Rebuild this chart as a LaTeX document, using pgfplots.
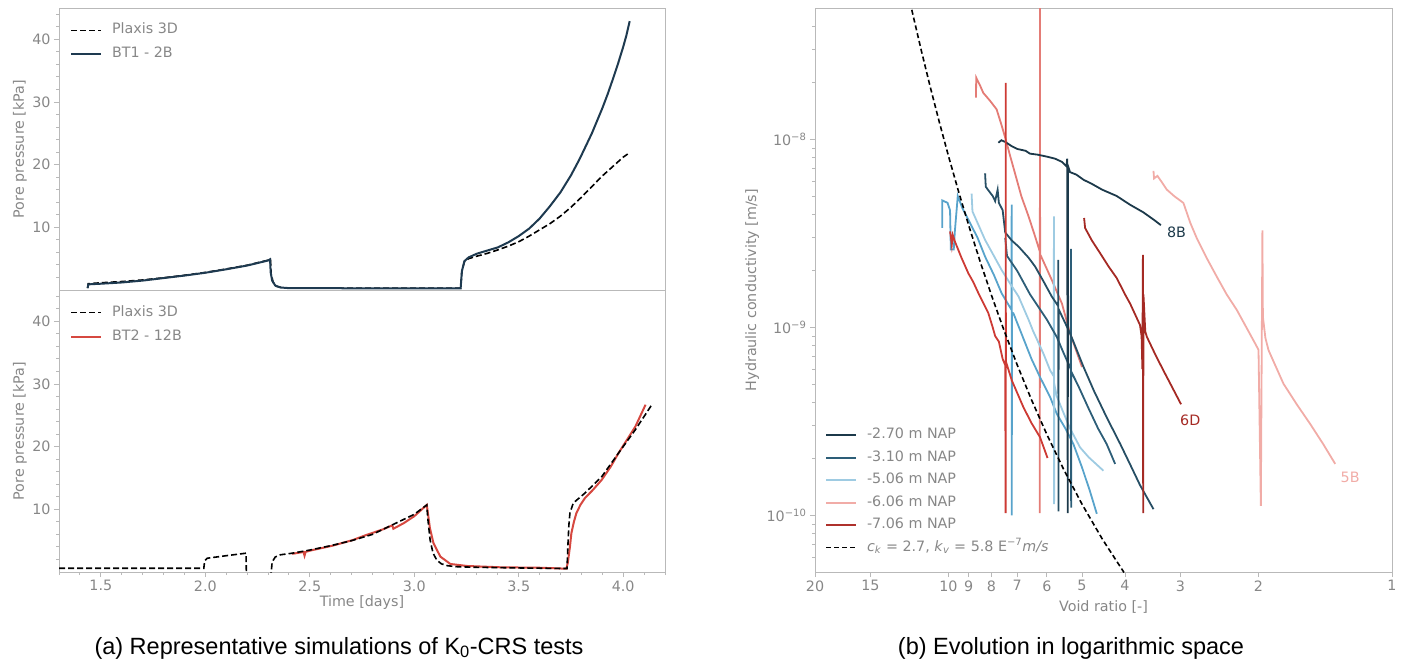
\documentclass[border=0pt]{standalone}
\usepackage{fontspec}
\setmainfont{DejaVu Sans}
\newfontfamily\capfont{Liberation Sans}
\usepackage{pgfplots}
\pgfplotsset{compat=1.18}

\definecolor{tickgray}{RGB}{135,135,135}
\definecolor{spinegray}{RGB}{185,185,185}
\definecolor{navy}{RGB}{28,57,74}
\definecolor{bt1}{RGB}{30,58,80}
\definecolor{bt2}{RGB}{214,72,64}
\definecolor{tealc}{RGB}{45,94,120}
\definecolor{tealb}{RGB}{38,78,100}
\definecolor{midblue}{RGB}{88,163,203}
\definecolor{lightblue}{RGB}{158,203,226}
\definecolor{lightpink}{RGB}{241,172,167}
\definecolor{salmon}{RGB}{228,124,118}
\definecolor{red7}{RGB}{205,58,52}
\definecolor{darkred}{RGB}{165,42,36}

\newcommand{\fs}{\fontsize{14.3}{17}\selectfont}

\pgfplotsset{
 mystyle/.style={
  scale only axis,
  anchor=south west,
  axis line style={draw=spinegray, line width=0.9pt},
  tick style={draw=spinegray, line width=0.9pt},
  tick align=outside,
  major tick length=5pt,
  minor tick length=3pt,
  xtick pos=bottom, ytick pos=left,
  tick label style={font=\fs, text=tickgray},
  label style={font=\fs, text=tickgray},
  legend style={draw=none, fill=none, font=\fs, text=tickgray, inner sep=0pt, outer sep=0pt,
     nodes={text height=10pt, text depth=3pt, inner sep=2pt}},
  legend cell align=left,
  legend image code/.code={\draw[##1] (0pt,0pt) -- (30pt,0pt); \path (38pt,0pt);},
 }
}

\begin{document}
\begin{tikzpicture}
\useasboundingbox (0,0) rectangle (1404pt,662pt);

% ---------- top left ----------
\begin{axis}[mystyle, at={(59pt,372pt)}, width=606pt, height=282pt,
  xmin=1.3, xmax=4.2, ymin=0, ymax=45,
  xtick=\empty, ytick={10,20,30,40}, yticklabels={10,20,30,40},
  minor ytick={2,4,...,44},
  ylabel={Pore pressure [kPa]},
  ylabel style={at={(axis description cs:-0.0644,0.5)}, anchor=center},
  legend style={at={(axis description cs:0,1)}, anchor=north west, xshift=11pt, yshift=-14pt, row sep=7pt}]
\addplot[black, line width=1.6pt, dash pattern=on 6pt off 3pt] coordinates {
(1.437,0.3) (1.44,1.0) (1.5,1.15) (1.6,1.35) (1.7,1.6) (1.8,1.95) (1.9,2.35) (2.0,2.8) (2.1,3.35) (2.2,3.95) (2.3,4.75) (2.312,4.9) (2.315,2.6) (2.325,1.2) (2.34,0.6) (2.37,0.35) (2.5,0.3) (3.0,0.3) (3.222,0.3) (3.228,3.0) (3.24,4.5) (3.26,5.0) (3.3,5.4) (3.35,5.85) (3.4,6.4) (3.45,7.0) (3.5,7.7) (3.55,8.6) (3.6,9.6) (3.65,10.6) (3.7,11.8) (3.75,13.2) (3.8,14.8) (3.85,16.5) (3.9,18.2) (3.95,19.7) (4.0,21.2) (4.026,21.8)};
\addlegendentry{Plaxis 3D}
\addplot[bt1, line width=2pt] coordinates {
(1.437,0.3) (1.44,0.9) (1.5,1.0) (1.6,1.2) (1.7,1.5) (1.8,1.9) (1.9,2.3) (2.0,2.75) (2.1,3.3) (2.2,3.9) (2.3,4.7) (2.31,4.9) (2.313,2.8) (2.32,1.5) (2.335,0.7) (2.36,0.4) (2.4,0.3) (3.0,0.25) (3.222,0.25) (3.228,3.0) (3.24,4.6) (3.26,5.2) (3.3,5.8) (3.35,6.3) (3.4,6.8) (3.45,7.6) (3.5,8.6) (3.55,9.8) (3.6,11.4) (3.625,12.4) (3.65,13.4) (3.7,15.6) (3.75,18.3) (3.785,20.5) (3.8,21.5) (3.85,25.0) (3.9,29.0) (3.925,31.2) (3.95,33.6) (3.975,36.1) (4.0,38.8) (4.015,40.6) (4.031,42.9)};
\addlegendentry{BT1 - 2B}
\end{axis}

% ---------- bottom left ----------
\begin{axis}[mystyle, at={(59pt,90pt)}, width=606pt, height=282pt,
  xmin=1.3, xmax=4.2, ymin=0, ymax=45,
  xtick={1.5,2,2.5,3,3.5,4}, xticklabels={1.5,2.0,2.5,3.0,3.5,4.0},
  minor xtick={1.3,1.4,1.6,1.7,1.8,1.9,2.1,2.2,2.3,2.4,2.6,2.7,2.8,2.9,3.1,3.2,3.3,3.4,3.6,3.7,3.8,3.9,4.1,4.2},
  ytick={10,20,30,40}, yticklabels={10,20,30,40},
  minor ytick={2,4,...,44},
  xlabel={Time [days]},
  xlabel style={at={(axis description cs:0.5,-0.108)}, anchor=center},
  ylabel={Pore pressure [kPa]},
  ylabel style={at={(axis description cs:-0.0644,0.5)}, anchor=center},
  legend style={at={(axis description cs:0,1)}, anchor=north west, xshift=11pt, yshift=-14pt, row sep=7pt}]
\addplot[black, line width=1.6pt, dash pattern=on 6pt off 3pt] coordinates {
(1.3,0.6) (1.993,0.6) (1.997,1.8) (2.01,2.2) (2.1,2.6) (2.195,3.0) (2.197,-1)};
\addlegendentry{Plaxis 3D}
\addplot[bt2, line width=2pt] coordinates {
(2.416,2.9) (2.47,3.2) (2.475,2.6) (2.48,3.2) (2.5,3.4) (2.609,4.2) (2.706,5.1) (2.77,5.9) (2.85,6.8) (2.895,7.45) (2.9,6.9) (2.95,7.8) (3.0,8.9) (3.06,10.7) (3.065,9.5) (3.075,7.0) (3.092,4.6) (3.125,2.45) (3.173,1.28) (3.253,0.96) (3.414,0.75) (3.6,0.68) (3.728,0.53) (3.735,1.5) (3.745,4.0) (3.752,6.2) (3.764,8.0) (3.776,9.4) (3.795,10.7) (3.817,11.8) (3.855,13.1) (3.897,14.7) (3.94,16.8) (3.978,19.0) (4.02,21.2) (4.058,23.2) (4.107,26.7)};
\addlegendentry{BT2 - 12B}
\addplot[forget plot, black, line width=1.6pt, dash pattern=on 6pt off 3pt] coordinates {
(2.313,-1) (2.32,1.6) (2.335,2.4) (2.36,2.75) (2.416,3.0) (2.5,3.5) (2.6,4.2) (2.7,5.0) (2.8,6.0) (2.9,7.6) (3.0,9.2) (3.06,10.7) (3.065,8.5) (3.076,5.1) (3.09,3.0) (3.108,1.9) (3.13,1.3) (3.16,1.0) (3.2,0.85) (3.3,0.75) (3.5,0.65) (3.731,0.55) (3.735,4.0) (3.74,7.5) (3.745,9.4) (3.761,11.0) (3.817,12.6) (3.897,15.2) (3.978,19.0) (4.058,22.7) (4.139,26.8)};
\end{axis}

% ---------- right ----------
\begin{axis}[mystyle, at={(815pt,90pt)}, width=577pt, height=564pt,
  xmode=log, ymode=log, x dir=reverse,
  xmin=1, xmax=20, ymin=5e-11, ymax=5e-8,
  xtick={1,2,3,4,5,6,7,8,9,10,15,20}, xticklabels={1,2,3,4,5,6,7,8,9,10,15,20},
  xminorticks=false,
  ytick={1e-10,1e-9,1e-8}, yticklabels={10\textsuperscript{−10},10\textsuperscript{−9},10\textsuperscript{−8}},
  minor ytick={6e-11,7e-11,8e-11,9e-11,2e-10,3e-10,4e-10,5e-10,6e-10,7e-10,8e-10,9e-10,2e-9,3e-9,4e-9,5e-9,6e-9,7e-9,8e-9,9e-9,2e-8,3e-8,4e-8},
  xlabel={Void ratio [-]},
  xlabel style={at={(axis description cs:0.5,-0.062)}, anchor=center},
  ylabel={Hydraulic conductivity [m/s]},
  ylabel style={at={(axis description cs:-0.109,0.5)}, anchor=center},
  legend style={at={(axis description cs:0,0)}, anchor=south west, xshift=10pt, yshift=16pt, row sep=5.5pt}]

\addlegendimage{navy, line width=2pt}\addlegendentry{-2.70 m NAP}
\addlegendimage{tealc, line width=2pt}\addlegendentry{-3.10 m NAP}
\addlegendimage{lightblue, line width=2pt}\addlegendentry{-5.06 m NAP}
\addlegendimage{lightpink, line width=2pt}\addlegendentry{-6.06 m NAP}
\addlegendimage{red7!85!black, line width=2pt}\addlegendentry{-7.06 m NAP}
\addlegendimage{black, line width=1.6pt, dash pattern=on 5pt off 3pt}
\addlegendentry{\textit{c}\textsubscript{\textit{k}} = 2.7, \textit{k}\textsubscript{\textit{v}} = 5.8 E\textsuperscript{−7}\textit{m/s}}

% 5B light pink
\addplot[forget plot, lightpink, line width=1.8pt] coordinates {
(3.45,6.8e-9) (3.44,6.2e-9) (3.38,6.4e-9) (3.3,5.9e-9) (3.22,5.41e-9) (3.1,5.0e-9) (2.953,4.59e-9) (2.85,3.6e-9) (2.755,2.98e-9) (2.62,2.35e-9) (2.483,1.86e-9) (2.36,1.5e-9) (2.239,1.24e-9) (2.12,9.8e-10) (2.035,8.21e-10) (2.0,7.6e-10) (1.976,1.125e-10) (1.96,3.28e-9) (1.955,1.14e-9) (1.93,8.8e-10) (1.899,7.57e-10) (1.757,5.02e-10) (1.64,3.9e-10) (1.53,3.07e-10) (1.43,2.4e-10) (1.343,1.88e-10)};
% salmon
\addplot[forget plot, salmon, line width=1.8pt] coordinates {
(8.67,1.67e-8) (8.66,2.13e-8) (8.5,1.95e-8) (8.35,1.77e-8) (8.05,1.6e-8) (7.79,1.445e-8) (7.6,1.2e-8) (7.43,1.0e-8) (7.26,8.15e-9) (7.12,6.92e-9) (6.85,4.98e-9) (6.6,3.9e-9) (6.38,3.05e-9) (6.23,2.55e-9) (6.225,1.03e-10) (6.22,1e-7) (6.215,2.45e-9) (6.18,2.38e-9) (5.85,1.79e-9) (5.55,1.34e-9) (5.32,9.3e-10) (5.15,7.5e-10) (5.0,6.16e-10)};
% medium blue
\addplot[forget plot, midblue, line width=1.8pt] coordinates {
(10.33,3.38e-9) (10.33,4.74e-9) (10.05,4.6e-9) (9.92,4.2e-9) (9.88,2.6e-9) (9.73,2.6e-9) (9.68,3.2e-9) (9.53,5.0e-9) (9.3,4.3e-9) (9.02,3.74e-9) (8.6,3.0e-9) (8.27,2.38e-9) (7.9,1.9e-9) (7.59,1.52e-9) (7.21,1.24e-9) (7.205,4.5e-9) (7.2,1.0e-10) (7.195,1.2e-9) (7.14,1.19e-9) (6.8,8.9e-10) (6.5,6.8e-10) (6.22,5.45e-10) (5.9,4.26e-10) (5.70,3.47e-10) (5.45,2.9e-10) (5.23,2.4e-10) (5.0,1.8e-10) (4.8,1.35e-10) (4.63,1.02e-10)};
% light blue
\addplot[forget plot, lightblue, line width=1.8pt] coordinates {
(8.87,5.15e-9) (8.83,4.14e-9) (8.6,3.6e-9) (8.27,2.92e-9) (7.9,2.4e-9) (7.59,2.02e-9) (7.25,1.7e-9) (6.95,1.46e-9) (6.6,1.1e-9) (6.45,9.6e-10) (6.1,7.2e-10) (5.9,5.91e-10) (5.79,5.5e-10) (5.785,3.9e-9) (5.78,1.15e-10) (5.775,5.0e-10) (5.70,4.3e-10) (5.5,3.5e-10) (5.32,2.9e-10) (5.05,2.3e-10) (4.83,2.04e-10) (4.475,1.73e-10)};
% line b teal
\addplot[forget plot, tealc, line width=1.8pt] coordinates {
(7.45,3.0e-9) (7.38,2.4e-9) (7.0,2.0e-9) (6.55,1.5e-9) (6.0,1.1e-9) (5.70,8.9e-10) (5.5,7.3e-10) (5.30,6.0e-10) (5.295,2.62e-9) (5.29,1.1e-10) (5.285,5.8e-10) (5.1,4.9e-10) (4.83,3.7e-10) (4.6,2.9e-10) (4.40,2.4e-10) (4.21,1.88e-10)};
% line a
\addplot[forget plot, tealb, line width=1.8pt] coordinates {
(8.27,6.6e-9) (8.24,5.6e-9) (8.1,5.3e-9) (7.95,5.0e-9) (7.85,4.7e-9) (7.75,5.4e-9) (7.7,4.6e-9) (7.55,4.2e-9) (7.45,3.2e-9) (7.2,2.9e-9) (6.95,2.69e-9) (6.6,2.35e-9) (6.38,2.11e-9) (6.1,1.75e-9) (5.85,1.46e-9) (5.66,1.3e-9) (5.655,2.29e-9) (5.65,1.05e-10) (5.645,1.25e-9) (5.32,9.3e-10) (4.96,6.16e-10) (4.7,4.6e-10) (4.40,3.33e-10) (4.1,2.4e-10) (3.9,1.88e-10) (3.7,1.45e-10) (3.45,1.08e-10)};
% 8B navy
\addplot[forget plot, navy, line width=1.8pt] coordinates {
(7.72,9.6e-9) (7.6,9.9e-9) (7.45,9.7e-9) (7.2,9.2e-9) (7.0,8.9e-9) (6.7,8.7e-9) (6.55,8.4e-9) (6.3,8.3e-9) (6.0,8.1e-9) (5.75,7.9e-9) (5.55,7.6e-9) (5.42,7.2e-9) (5.40,7.9e-9) (5.385,1.03e-10) (5.375,7.2e-9) (5.32,6.7e-9) (5.15,6.5e-9) (4.96,6.1e-9) (4.75,5.8e-9) (4.5,5.4e-9) (4.175,5.0e-9) (3.9,4.5e-9) (3.64,4.1e-9) (3.45,3.75e-9) (3.32,3.5e-9)};
% 6D dark red
\addplot[forget plot, darkred, line width=1.8pt] coordinates {
(4.946,3.82e-9) (4.92,3.38e-9) (4.75,2.9e-9) (4.55,2.48e-9) (4.35,2.1e-9) (4.175,1.83e-9) (4.0,1.5e-9) (3.896,1.34e-9) (3.70,1.03e-9) (3.67,9.0e-10) (3.655,6.0e-10) (3.645,2.43e-9) (3.64,1.03e-10) (3.635,1.5e-9) (3.6,9.5e-10) (3.57,8.9e-10) (3.42,7.2e-10) (3.278,5.91e-10) (3.13,4.8e-10) (2.99,3.9e-10)};
% red -7.06
\addplot[forget plot, red7, line width=1.8pt] coordinates {
(9.92,3.24e-9) (9.88,3.05e-9) (9.83,2.75e-9) (9.78,3.1e-9) (9.67,2.86e-9) (9.35,2.35e-9) (9.02,1.94e-9) (8.8,1.75e-9) (8.56,1.52e-9) (8.35,1.35e-9) (8.13,1.19e-9) (7.95,1.0e-9) (7.85,9.0e-10) (7.7,8.4e-10) (7.55,6.8e-10) (7.45,6.3e-10) (7.435,1.03e-10) (7.43,2.0e-8) (7.425,6.6e-10) (7.2,5.23e-10) (6.78,3.77e-10) (6.5,3.1e-10) (6.22,2.61e-10) (5.98,2.02e-10)};
% fit
\addplot[forget plot, black, line width=1.6pt, dash pattern=on 5pt off 3pt] coordinates {
(12.1,4.89e-8) (11.5,2.93e-8) (11,1.913e-8) (10.5,1.249e-8) (10,8.155e-9) (9.5,5.325e-9) (9,3.477e-9) (8.5,2.270e-9) (8,1.482e-9) (7.5,9.674e-10) (7,6.317e-10) (6.5,4.124e-10) (6,2.693e-10) (5.5,1.758e-10) (5,1.148e-10) (4.5,7.49e-11) (4.02,4.97e-11)};

\node[font=\fs, text=navy] at (axis cs:3.06,3.2e-9) {8B};
\node[font=\fs, text=darkred] at (axis cs:2.85,3.2e-10) {6D};
\node[font=\fs, text=lightpink] at (axis cs:1.243,1.59e-10) {5B};
\end{axis}

\node[font=\capfont\fontsize{23.5}{28}\selectfont, text=black] at (339pt,14pt) {(a) Representative simulations of K\textsubscript{0}-CRS tests};
\node[font=\capfont\fontsize{23.5}{28}\selectfont, text=black] at (1071pt,14pt) {(b) Evolution in logarithmic space};
\end{tikzpicture}
\end{document}
